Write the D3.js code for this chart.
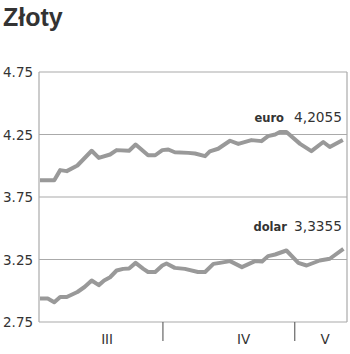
<!DOCTYPE html>
<html><head><meta charset="utf-8">
<script src="https://cdn.jsdelivr.net/npm/d3@7"></script>
<style>body{margin:0;background:#fff}svg{display:block}</style>
</head><body>
<script>
const title = "Złoty";
const yTicks = [2.75, 3.25, 3.75, 4.25, 4.75];
const yTickLabels = ["2.75", "3.25", "3.75", "4.25", "4.75"];
const monthBoundaries = [20.7, 42.9];
const monthLabels = ["III", "IV", "V"];
const monthLabelPos = [11.3, 34.3, 48];
const euroX = [0, 2.4, 3.4, 4.5, 6.3, 8.7, 9.9, 11.8, 12.9, 15, 16.1, 18.2, 19.4, 20.6, 21.6, 22.7, 25, 26.1, 27.8, 28.6, 30, 32, 33.4, 35.6, 37.3, 38.4, 39.6, 40.4, 41.5, 43.8, 45.7, 47.7, 48.8, 51];
const euroValues = [3.884, 3.884, 3.965, 3.957, 4.002, 4.12, 4.063, 4.09, 4.125, 4.12, 4.17, 4.084, 4.084, 4.125, 4.13, 4.108, 4.103, 4.098, 4.077, 4.115, 4.136, 4.2, 4.175, 4.205, 4.197, 4.237, 4.25, 4.27, 4.27, 4.175, 4.117, 4.19, 4.15, 4.2055];
const dolarX = [0, 1.3, 2.4, 3.4, 4.5, 6.3, 7.5, 8.7, 9.9, 10.8, 11.8, 12.9, 14, 15, 16.1, 17.4, 18.2, 19.4, 20.6, 21.3, 22.7, 24.4, 26.6, 27.8, 29.2, 30.3, 32, 34, 36.2, 37.4, 38.4, 39.6, 41.5, 43.5, 44.9, 47.1, 48.8, 51.1];
const dolarValues = [2.938, 2.938, 2.908, 2.95, 2.95, 2.99, 3.03, 3.082, 3.045, 3.082, 3.108, 3.162, 3.175, 3.178, 3.223, 3.175, 3.15, 3.15, 3.202, 3.218, 3.183, 3.175, 3.15, 3.15, 3.215, 3.223, 3.237, 3.189, 3.237, 3.234, 3.277, 3.29, 3.322, 3.223, 3.202, 3.242, 3.256, 3.3355];
const seriesNames = ["euro", "dolar"];
const seriesLastLabels = ["4,2055", "3,3355"];

const W = 350, H = 354;
const svg = d3.select("body").append("svg").attr("width", W).attr("height", H);
const x = d3.scaleLinear().domain([-0.17, 51.7]).range([39, 347]);
const y = d3.scaleLinear().domain([2.75, 4.75]).range([322, 72]);

svg.append("text").attr("x", 3).attr("y", 26).text(title)
  .attr("font-family", "Liberation Sans, Arial, sans-serif").attr("font-weight", "bold")
  .attr("font-size", 25).attr("fill", "#333");

// gridlines
svg.append("g").selectAll("line").data(yTicks).join("line")
  .attr("x1", 39).attr("x2", 347).attr("y1", d => y(d)).attr("y2", d => y(d))
  .attr("stroke", "#aaa").attr("stroke-width", 1.2);
// vertical frame lines
svg.append("line").attr("x1", x(-0.17)).attr("x2", x(-0.17)).attr("y1", y(4.75)).attr("y2", y(2.75))
  .attr("stroke", "#aaa").attr("stroke-width", 1.2);
svg.append("line").attr("x1", x(51.7)).attr("x2", x(51.7)).attr("y1", y(4.75)).attr("y2", y(2.75))
  .attr("stroke", "#aaa").attr("stroke-width", 1.2);

svg.append("g").selectAll("text").data(yTicks).join("text")
  .attr("x", 3).attr("y", d => y(d) + 5).text((d, i) => yTickLabels[i])
  .attr("font-family", "DejaVu Sans, sans-serif").attr("font-size", 13.5).attr("fill", "#333");

// month ticks
svg.append("g").selectAll("line").data(monthBoundaries).join("line")
  .attr("x1", d => x(d)).attr("x2", d => x(d)).attr("y1", y(2.75)).attr("y2", y(2.75) + 19)
  .attr("stroke", "#666").attr("stroke-width", 1.2);
svg.append("g").selectAll("text").data(monthLabels).join("text")
  .attr("x", (d, i) => x(monthLabelPos[i])).attr("y", 344).attr("text-anchor", "middle").text(d => d)
  .attr("font-family", "DejaVu Sans, sans-serif").attr("font-size", 13.5).attr("fill", "#333");

const line = d3.line().x(d => x(d[0])).y(d => y(d[1]));
const series = [d3.zip(euroX, euroValues), d3.zip(dolarX, dolarValues)];
svg.append("g").selectAll("path").data(series).join("path")
  .attr("d", line).attr("fill", "none").attr("stroke", "#999").attr("stroke-width", 4)
  .attr("stroke-linejoin", "round").attr("stroke-linecap", "butt");

const lastVals = [euroValues[euroValues.length - 1], dolarValues[dolarValues.length - 1]];
const lbl = svg.append("g").selectAll("g").data(seriesNames).join("g");
lbl.append("text").attr("x", 342).attr("y", (d, i) => y(lastVals[i]) - 18)
  .attr("text-anchor", "end").text((d, i) => seriesLastLabels[i])
  .attr("font-family", "DejaVu Sans, sans-serif").attr("font-size", 13.7).attr("fill", "#333");
lbl.append("text").attr("x", (d, i) => i === 0 ? 284 : 287).attr("y", (d, i) => y(lastVals[i]) - 18)
  .attr("text-anchor", "end").text(d => d)
  .attr("font-family", "DejaVu Sans, sans-serif").attr("font-weight", "bold").attr("font-size", 11.5).attr("fill", "#333");
</script>
</body></html>
